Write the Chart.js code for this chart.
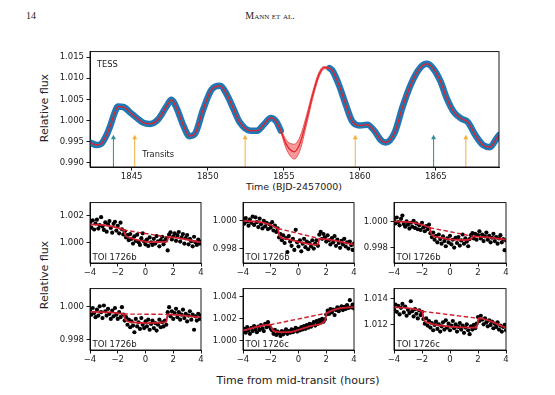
<!DOCTYPE html>
<html>
<head>
<meta charset="utf-8">
<script src="https://cdn.jsdelivr.net/npm/chart.js@4.4.1/dist/chart.umd.min.js"></script>
<style>
  body { margin: 0; background: #fff; width: 555px; height: 395px; position: relative; overflow: hidden;
         font-family: "DejaVu Sans", sans-serif; color: #222; }
  canvas { position: absolute; }
  .lbl { position: absolute; white-space: nowrap; transform: translate(-50%, -50%); }
  .rot { transform: translate(-50%, -50%) rotate(-90deg); }
  .serif { font-family: "Liberation Serif", serif; font-size: 10px; }
</style>
</head>
<body>
<div class="lbl serif" style="left:31px;top:15px;">14</div>
<div class="lbl serif" style="left:270px;top:15px;font-variant:small-caps;">Mann et al.</div>
<div class="lbl rot" style="left:44px;top:108px;font-size:11px;">Relative flux</div>
<div class="lbl" style="left:294px;top:186px;font-size:9.5px;">Time (BJD-2457000)</div>
<div class="lbl rot" style="left:44px;top:275px;font-size:11px;">Relative flux</div>
<div class="lbl" style="left:298px;top:380px;font-size:11px;">Time from mid-transit (hours)</div>

<script>
// ---- top panel: TESS light curve + GP model ----
const tessTime = [1842.26, 1842.7, 1843.0, 1843.3, 1843.6, 1843.85, 1844.1, 1844.45, 1844.9, 1845.3,
  1845.75, 1846.2, 1846.75, 1847.3, 1847.6, 1847.95, 1848.4, 1848.8, 1849.15, 1849.7,
  1850.25, 1850.8, 1851.25, 1851.7, 1852.1, 1852.8, 1853.25, 1853.7, 1854.15, 1854.5,
  1854.8, 1855.2, 1855.7, 1856.07, 1856.5, 1856.9, 1857.3, 1857.65, 1858.0, 1858.2,
  1858.65, 1859.1, 1859.5, 1860.0, 1860.5, 1860.95, 1861.4, 1861.7, 1862.3, 1862.8,
  1863.4, 1863.95, 1864.4, 1864.8, 1865.3, 1865.7, 1866.2, 1866.7, 1867.1, 1867.6,
  1868.1, 1868.55, 1869.0, 1869.15];
const tessFlux = [0.9948, 0.9942, 0.9945, 0.9962, 0.9988, 1.0015, 1.0033, 1.0032, 1.0019, 1.0007,
  0.9995, 0.9992, 1.0003, 1.0034, 1.0049, 1.0030, 0.9988, 0.9963, 0.9968, 1.0026,
  1.0073, 1.0082, 1.0062, 1.0027, 0.9996, 0.9976, 0.9976, 0.9991, 1.0006, 0.9998,
  0.9976, 0.9941, 0.9926, 0.9946, 1.0002, 1.0060, 1.0107, 1.0125, 1.0124, 1.0118,
  1.0082, 1.0035, 0.9998, 0.9988, 0.9990, 0.9976, 0.9953, 0.9948, 0.9972, 1.0031,
  1.0089, 1.0124, 1.0134, 1.0124, 1.0093, 1.0054, 1.0019, 1.0004, 0.9996, 0.9965,
  0.9942, 0.9937, 0.9958, 0.9965];
const obsEnd = 1854.8, obsRestart = 1858.0;   // gap in the TESS data
const gapTime  = [1854.8, 1855.2, 1855.7, 1856.07, 1856.5, 1856.9, 1857.3, 1857.65, 1858.0];
const gapUpper = [0.9979, 0.9952, 0.9944, 0.9962, 1.0013, 1.0068, 1.0113, 1.0128, 1.0125];
const gapLower = [0.9973, 0.9930, 0.9909, 0.9930, 0.9991, 1.0052, 1.0101, 1.0122, 1.0123];
const transitsB = [1845.2, 1852.46, 1859.7, 1866.97];   // orange arrows
const transitsC = [1843.8, 1864.85];                    // teal arrows
const arrowTip = 0.9966;

// ---- bottom panels: phased transits ----
const hours = [-4, -3.9, -3.8, -3.7, -3.6, -3.5, -3.4, -3.3, -3.2, -3.1,
  -3, -2.9, -2.8, -2.7, -2.6, -2.5, -2.4, -2.3, -2.2, -2.1,
  -2, -1.9, -1.8, -1.7, -1.6, -1.5, -1.4, -1.3, -1.2, -1.1,
  -1, -0.9, -0.8, -0.7, -0.6, -0.5, -0.4, -0.3, -0.2, -0.1,
  0, 0.1, 0.2, 0.3, 0.4, 0.5, 0.6, 0.7, 0.8, 0.9,
  1, 1.1, 1.2, 1.3, 1.4, 1.5, 1.6, 1.7, 1.8, 1.9,
  2, 2.1, 2.2, 2.3, 2.4, 2.5, 2.6, 2.7, 2.8, 2.9,
  3, 3.1, 3.2, 3.3, 3.4, 3.5, 3.6, 3.7, 3.8, 3.9, 4];

const fluxB1 = [1.00148,1.00112,1.00165,1.00098,1.00142,1.00170,1.00105,1.00130,1.00188,1.00120,
  1.00095,1.00150,1.00082,1.00135,1.00160,1.00110,1.00075,1.00140,1.00155,1.00090,
  1.00125,1.00070,1.00148,1.00100,1.00062,1.00085,1.00040,1.00058,1.00020,1.00065,
  1.00030,0.99995,1.00048,1.00015,1.00060,1.00005,0.99985,1.00035,1.00070,1.00010,
  0.99990,1.00025,0.99978,1.00040,1.00005,0.99985,1.00030,0.99995,1.00050,1.00012,
  0.99975,1.00020,1.00045,0.99990,1.00015,1.00035,0.99945,1.00060,1.00078,1.00025,
  1.00048,1.00070,1.00015,1.00055,1.00080,1.00010,1.00040,1.00065,0.99995,1.00035,
  1.00058,0.99990,1.00030,1.00012,0.99975,1.00045,1.00005,0.99985,1.00025,0.99995,1.00010];
const fluxB2 = [1.00005,0.99980,1.00020,0.99995,0.99965,1.00010,0.99985,1.00030,0.99970,1.00025,
  0.99990,0.99955,1.00015,0.99975,0.99945,1.00000,0.99960,0.99985,0.99940,0.99975,
  0.99950,0.99990,0.99930,0.99965,0.99920,0.99945,0.99880,0.99905,0.99860,0.99895,
  0.99840,0.99875,0.99775,0.99890,0.99850,0.99820,0.99870,0.99790,0.99935,0.99845,
  0.99815,0.99860,0.99780,0.99835,0.99870,0.99810,0.99850,0.99795,0.99840,0.99815,
  0.99860,0.99800,0.99835,0.99860,0.99820,0.99900,0.99920,0.99870,0.99905,0.99880,
  0.99850,0.99895,0.99860,0.99830,0.99875,0.99845,0.99890,0.99820,0.99865,0.99840,
  0.99805,0.99855,0.99830,0.99870,0.99815,0.99845,0.99800,0.99850,0.99825,0.99790,0.99835];
const fluxB3 = [1.00010,0.99985,1.00030,0.99995,0.99970,1.00020,1.00045,0.99980,0.99960,1.00000,
  0.99975,0.99945,0.99990,0.99960,1.00005,0.99950,0.99985,0.99940,0.99970,0.99935,
  0.99990,0.99955,0.99925,0.99965,0.99940,0.99975,0.99910,0.99880,0.99915,0.99860,
  0.99890,0.99840,0.99900,0.99865,0.99830,0.99885,0.99850,0.99810,0.99870,0.99840,
  0.99890,0.99825,0.99860,0.99800,0.99875,0.99835,0.99880,0.99815,0.99855,0.99900,
  0.99830,0.99870,0.99845,0.99810,0.99865,0.99895,0.99910,0.99870,0.99905,0.99860,
  0.99895,0.99925,0.99870,0.99900,0.99850,0.99885,0.99915,0.99860,0.99890,0.99840,
  0.99875,0.99905,0.99850,0.99880,0.99830,0.99870,0.99895,0.99840,0.99865,0.99780,0.99855];
const fluxB4 = [0.99975,0.99950,0.99990,0.99960,0.99935,0.99980,0.99945,1.00000,0.99965,0.99930,
  1.00005,0.99970,0.99945,0.99985,0.99955,0.99925,0.99975,0.99940,0.99990,0.99950,
  0.99925,0.99965,0.99935,0.99995,0.99950,0.99915,0.99935,0.99890,0.99920,0.99875,
  0.99910,0.99885,0.99845,0.99925,0.99880,0.99905,0.99865,0.99930,0.99890,0.99870,
  0.99910,0.99880,0.99920,0.99860,0.99895,0.99915,0.99870,0.99900,0.99855,0.99890,
  0.99920,0.99875,0.99905,0.99880,0.99915,0.99890,0.99965,0.99995,0.99940,0.99970,
  0.99925,0.99960,0.99985,0.99935,0.99965,0.99920,0.99950,0.99980,0.99930,0.99955,
  0.99910,0.99945,0.99970,0.99920,0.99950,0.99860,0.99940,0.99915,0.99955,0.99925,0.99945];
const fluxC1 = [1.00080,1.00105,1.00070,1.00120,1.00090,1.00060,1.00115,1.00085,1.00130,1.00100,
  1.00075,1.00125,1.00095,1.00140,1.00110,1.00085,1.00150,1.00120,1.00165,1.00130,
  1.00105,1.00090,1.00060,1.00095,1.00050,1.00080,1.00065,1.00040,1.00085,1.00055,
  1.00075,1.00100,1.00060,1.00085,1.00070,1.00100,1.00075,1.00095,1.00115,1.00080,
  1.00105,1.00090,1.00120,1.00100,1.00130,1.00105,1.00140,1.00115,1.00150,1.00125,
  1.00145,1.00165,1.00135,1.00175,1.00150,1.00185,1.00160,1.00195,1.00170,1.00190,
  1.00235,1.00270,1.00240,1.00285,1.00255,1.00280,1.00230,1.00275,1.00300,1.00265,
  1.00290,1.00310,1.00275,1.00305,1.00285,1.00320,1.00295,1.00365,1.00300,1.00325,1.00290];
const fluxC2 = [1.01320,1.01355,1.01300,1.01345,1.01280,1.01330,1.01360,1.01295,1.01340,1.01270,
  1.01315,1.01290,1.01380,1.01305,1.01265,1.01320,1.01285,1.01250,1.01310,1.01275,
  1.01300,1.01245,1.01210,1.01250,1.01195,1.01230,1.01180,1.01215,1.01160,1.01200,
  1.01225,1.01170,1.01205,1.01150,1.01190,1.01220,1.01165,1.01235,1.01180,1.01210,
  1.01160,1.01195,1.01230,1.01175,1.01205,1.01150,1.01185,1.01215,1.01165,1.01195,
  1.01140,1.01180,1.01205,1.01160,1.01130,1.01190,1.01165,1.01200,1.01175,1.01210,
  1.01260,1.01230,1.01270,1.01240,1.01205,1.01250,1.01220,1.01190,1.01235,1.01200,
  1.01225,1.01175,1.01210,1.01185,1.01220,1.01165,1.01195,1.01150,1.01185,1.01200,1.01160];

// model (solid) and out-of-transit trend (dashed) for each panel
const modelB1h = [-4, -1.6, -1.45, -1.2, -0.6, 0, 0.6, 1.2, 1.55, 1.65, 4];
const modelB1f = [1.00135, 1.00095, 1.00055, 1.0004, 1.00022, 1.0001, 1.00006, 1.00007, 1.0001, 1.00042, 1.00004];
const trendB1h = [-1.6, 1.65], trendB1f = [1.00095, 1.00042];
const modelB2h = [-4, -1.5, -1.35, -0.8, 0, 0.8, 1.4, 1.5, 4];
const modelB2f = [1.0000, 0.99945, 0.99888, 0.99868, 0.99848, 0.99832, 0.99828, 0.99872, 0.99829];
const trendB2h = [-1.5, 1.5], trendB2f = [0.99945, 0.99872];
const modelB3h = [-4, -1.45, -1.3, -0.6, 0, 1.2, 1.55, 1.65, 4];
const modelB3f = [1.0000, 0.99952, 0.99897, 0.99875, 0.99862, 0.99858, 0.9987, 0.99886, 0.99861];
const trendB3h = [-1.45, 1.65], trendB3f = [0.99952, 0.99886];
const modelB4h = [-4, -1.6, -1.45, -1.0, 0, 1.0, 1.5, 1.6, 4];
const modelB4f = [0.99967, 0.99954, 0.9992, 0.99905, 0.999, 0.99902, 0.99908, 0.99952, 0.99935];
const trendB4h = [-1.6, 1.6], trendB4f = [0.99954, 0.99952];
const modelC1h = [-4, -2.05, -1.85, -1.5, -1, -0.5, 0, 1, 1.9, 2.05, 4];
const modelC1f = [1.0009, 1.00142, 1.0009, 1.00078, 1.00075, 1.00078, 1.00095, 1.00135, 1.00178, 1.00248, 1.00302];
const trendC1h = [-2.05, 2.05], trendC1f = [1.00142, 1.00248];
const modelC2h = [-4, -2.0, -1.85, -1.5, -1, 0, 1, 1.9, 2.05, 4];
const modelC2f = [1.01334, 1.01304, 1.01235, 1.01215, 1.012, 1.01188, 1.01182, 1.0118, 1.0125, 1.0118];
const trendC2h = [-2.0, 2.05], trendC2f = [1.01304, 1.0125];

const pts = (xs, ys) => xs.map((x, i) => ({ x: x, y: ys[i] }));
const minus = v => (v < 0 ? '\u2212' + Math.abs(v) : String(v));

// draws the matplotlib-style box and the in-axes text labels
const framePlugin = {
  id: 'frame',
  afterDraw(chart, args, opts) {
    const { ctx, chartArea: a } = chart;
    ctx.save();
    ctx.strokeStyle = '#000';
    ctx.lineWidth = 0.9;
    ctx.strokeRect(a.left, a.top, a.right - a.left, a.bottom - a.top);
    ctx.fillStyle = '#222';
    ctx.font = '8.5px "DejaVu Sans"';
    ctx.textBaseline = 'alphabetic';
    (opts.labels || []).forEach(l => ctx.fillText(l.text, a.left + l.dx, a.bottom - l.dy));
    ctx.restore();
  }
};
Chart.register(framePlugin);

function axisStyle(min, max, tickVals, fmt, fit, isX) {
  return {
    type: 'linear', min: min, max: max,
    afterBuildTicks: s => { s.ticks = tickVals.map(v => ({ value: v })); },
    afterFit: s => { if (isX) s.height = fit; else s.width = fit; },
    ticks: { callback: fmt, color: '#222', font: { family: 'DejaVu Sans', size: 8.5 },
             padding: isX ? 1.5 : 2.5, maxRotation: 0, autoSkip: false },
    grid: { drawOnChartArea: false, tickLength: 3.5, tickWidth: 0.9, tickColor: '#000' },
    border: { display: true, color: '#000', width: 0.9 }
  };
}

function makeCanvas(box, m) {
  const c = document.createElement('canvas');
  c.width = box[2] + m.l + m.r;
  c.height = box[3] + m.t + m.b;
  c.style.left = (box[0] - m.l) + 'px';
  c.style.top = (box[1] - m.t) + 'px';
  document.body.appendChild(c);
  return c;
}

// ---- top chart ----
(function () {
  const m = { l: 44, r: 8, t: 6, b: 22 };
  const c = makeCanvas([90, 50, 409, 117], m);
  const all = pts(tessTime, tessFlux);
  const arrows = {
    id: 'arrows',
    afterDatasetsDraw(chart) {
      const { ctx, scales: { x, y }, chartArea: a } = chart;
      const draw = (t, col) => {
        const px = x.getPixelForValue(t), tip = y.getPixelForValue(arrowTip);
        ctx.strokeStyle = col; ctx.fillStyle = col; ctx.lineWidth = 1;
        ctx.beginPath(); ctx.moveTo(px, a.bottom); ctx.lineTo(px, tip + 3); ctx.stroke();
        ctx.beginPath(); ctx.moveTo(px, tip); ctx.lineTo(px - 2.5, tip + 4.5); ctx.lineTo(px + 2.5, tip + 4.5);
        ctx.closePath(); ctx.fill();
      };
      ctx.save();
      transitsB.forEach(t => draw(t, '#f5b03c'));
      transitsC.forEach(t => draw(t, '#2e8b98'));
      ctx.fillStyle = '#222';
      ctx.font = '8.3px "DejaVu Sans"';
      ctx.textBaseline = 'middle';
      ctx.fillText('TESS', a.left + 7, a.top + 13);
      ctx.fillText('Transits', x.getPixelForValue(1845.7), y.getPixelForValue(0.9918));
      ctx.restore();
    }
  };
  new Chart(c, {
    type: 'line',
    data: {
      datasets: [
        { data: all, borderColor: '#e3242b', borderWidth: 1.3, pointRadius: 0,
          cubicInterpolationMode: 'monotone', order: 0 },
        { data: pts(gapTime, gapUpper), borderColor: '#e8383e', borderWidth: 0.8, pointRadius: 0,
          cubicInterpolationMode: 'monotone', fill: '+1', backgroundColor: 'rgba(238,70,70,0.55)', order: 1 },
        { data: pts(gapTime, gapLower), borderColor: '#e8383e', borderWidth: 0.8, pointRadius: 0,
          cubicInterpolationMode: 'monotone', order: 1 },
        { data: all.filter(p => p.x <= obsEnd), borderColor: '#1f77b4', borderWidth: 6.5, pointRadius: 0,
          borderCapStyle: 'round', cubicInterpolationMode: 'monotone', order: 3 },
        { data: all.filter(p => p.x >= obsRestart), borderColor: '#1f77b4', borderWidth: 6.5, pointRadius: 0,
          borderCapStyle: 'round', cubicInterpolationMode: 'monotone', order: 3 }
      ]
    },
    options: {
      responsive: false, animation: false, devicePixelRatio: 1,
      layout: { padding: { top: m.t, right: m.r, left: 0, bottom: 0 } },
      plugins: { legend: { display: false }, tooltip: { enabled: false } },
      scales: {
        x: axisStyle(1842.26, 1869.15, [1845, 1850, 1855, 1860, 1865], v => String(v), m.b, true),
        y: axisStyle(0.989, 1.0163, [0.990, 0.995, 1.000, 1.005, 1.010, 1.015], v => v.toFixed(3), m.l, false)
      }
    },
    plugins: [arrows]
  });
})();

// ---- bottom panels ----
const panels = [
  { box: [90, 199, 111, 64], name: 'TOI 1726b', y: [0.99853, 1.00295], yt: [1.000, 1.002],
    flux: fluxB1, mh: modelB1h, mf: modelB1f, th: trendB1h, tf: trendB1f },
  { box: [243, 199, 111, 64], name: 'TOI 1726b', y: [0.99696, 1.00131], yt: [0.998, 1.000],
    flux: fluxB2, mh: modelB2h, mf: modelB2f, th: trendB2h, tf: trendB2f },
  { box: [394, 199, 112, 64], name: 'TOI 1726b', y: [0.99682, 1.00144], yt: [0.998, 1.000],
    flux: fluxB3, mh: modelB3h, mf: modelB3f, th: trendB3h, tf: trendB3f },
  { box: [90, 285, 111, 65], name: 'TOI 1726b', y: [0.99739, 1.00106], yt: [0.998, 1.000],
    flux: fluxB4, mh: modelB4h, mf: modelB4f, th: trendB4h, tf: trendB4f },
  { box: [243, 285, 111, 65], name: 'TOI 1726c', y: [0.99913, 1.0047], yt: [1.000, 1.002, 1.004],
    flux: fluxC1, mh: modelC1h, mf: modelC1f, th: trendC1h, tf: trendC1f },
  { box: [394, 285, 112, 65], name: 'TOI 1726c', y: [1.0101, 1.01476], yt: [1.012, 1.014],
    flux: fluxC2, mh: modelC2h, mf: modelC2f, th: trendC2h, tf: trendC2f }
];

panels.forEach(p => {
  const m = { l: 40, r: 8, t: 4, b: 20 };
  const c = makeCanvas(p.box, m);
  new Chart(c, {
    type: 'line',
    data: {
      datasets: [
        { data: pts(p.mh, p.mf), borderColor: '#d01e2c', borderWidth: 1.8, pointRadius: 0,
          cubicInterpolationMode: 'monotone', order: 0 },
        { data: pts(p.th, p.tf), borderColor: '#d01e2c', borderWidth: 1.4, borderDash: [4.5, 2.5],
          pointRadius: 0, order: 1 },
        { data: pts(hours, p.flux), showLine: false, pointRadius: 2.1, pointBorderWidth: 0,
          pointBackgroundColor: '#000', order: 2 }
      ]
    },
    options: {
      responsive: false, animation: false, devicePixelRatio: 1,
      layout: { padding: { top: m.t, right: m.r, left: 0, bottom: 0 } },
      plugins: { legend: { display: false }, tooltip: { enabled: false },
                 frame: { labels: [{ text: p.name, dx: 2.5, dy: 3.5 }] } },
      scales: {
        x: axisStyle(-4, 4, [-4, -2, 0, 2, 4], minus, m.b, true),
        y: axisStyle(p.y[0], p.y[1], p.yt, v => v.toFixed(3), m.l, false)
      }
    }
  });
});
</script>
</body>
</html>
